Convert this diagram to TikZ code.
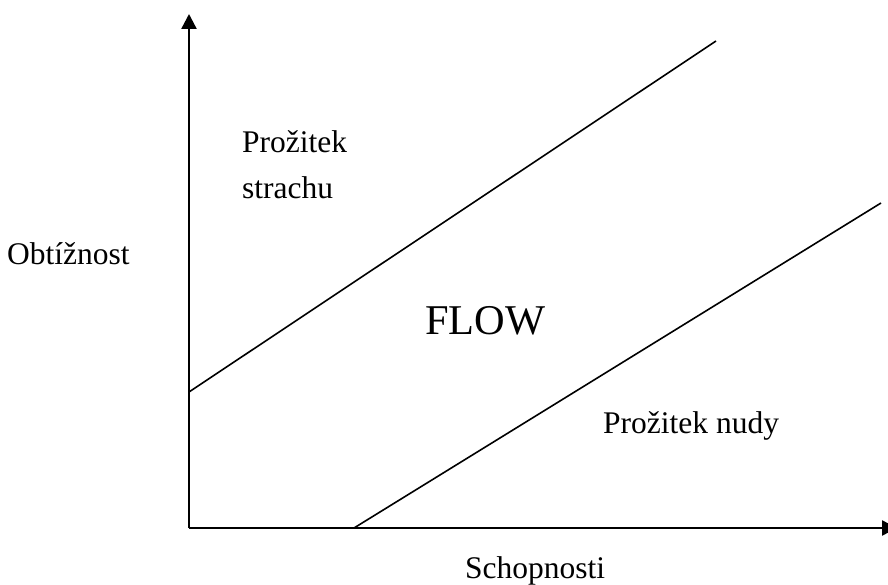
\documentclass[tikz,border=0pt]{standalone}
\usepackage{fontspec}
\setmainfont{Liberation Serif}
\usetikzlibrary{arrows.meta,positioning}
\tikzset{
  axisarr/.style={-{Triangle[length=15pt,width=15pt]},line width=2.4pt},
  zoneline/.style={line width=1.6pt},
  zonelabel/.style={anchor=base west,inner sep=0pt,font=\fontsize{31.5}{38}\selectfont},
  flowlabel/.style={anchor=base west,inner sep=0pt,font=\fontsize{42.4}{50}\selectfont}
}

\begin{document}
\begin{tikzpicture}[x=1pt,y=-1pt]
  \useasboundingbox (0,0) rectangle (888,585);

  %% Axes
  \coordinate (origin) at (189,528);
  \coordinate (ytip) at (189,14);
  \coordinate (xtip) at (897,528);
  \draw[axisarr] (origin) -- (ytip);
  \draw[axisarr] (origin) -- (xtip);

  %% Zone borders
  \coordinate (upA) at (189,392);
  \coordinate (upB) at (716,41);
  \coordinate (loA) at (354,528);
  \coordinate (loB) at (881,203);
  \draw[zoneline] (upA) -- (upB);
  \draw[zoneline] (loA) -- (loB);

  %% Labels
  \node[zonelabel] (fear1) at (242,153) {Prožitek};
  \node[zonelabel] (fear2) at (242,199) {strachu};
  \node[zonelabel] (ylab) at (7,264) {Obtížnost};
  \node[flowlabel] (flow) at (425,334) {FLOW};
  \node[zonelabel] (bore) at (603,433) {Prožitek nudy};
  \node[zonelabel] (xlab) at (465,578) {Schopnosti};
\end{tikzpicture}
\end{document}
